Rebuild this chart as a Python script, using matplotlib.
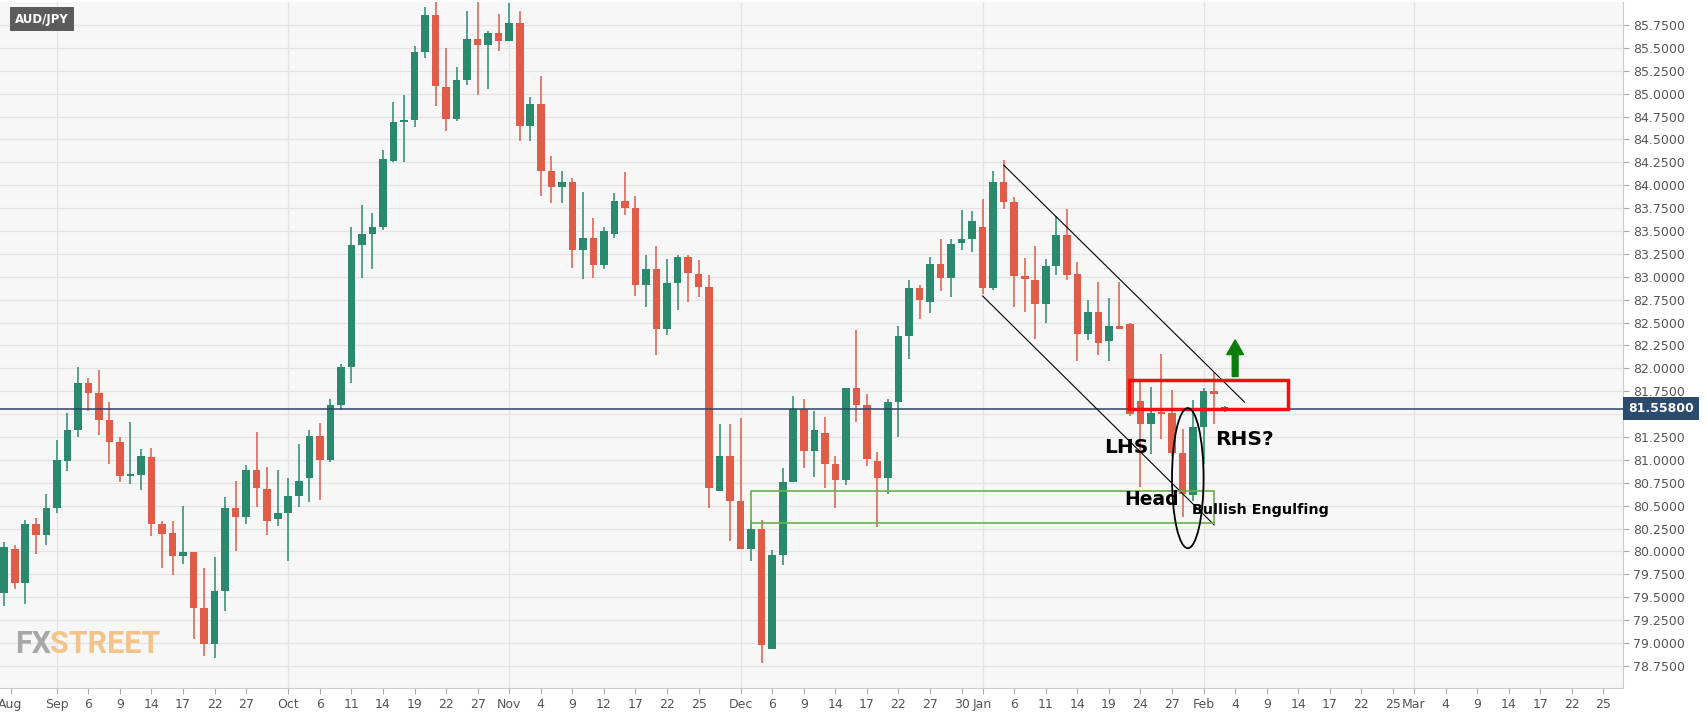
import matplotlib
matplotlib.use("Agg")
import matplotlib.pyplot as plt
import numpy as np
from matplotlib.patches import Rectangle, Ellipse, FancyArrow

# OHLC (daily, trading-day index from Aug 25)
opens = [79.55,80.03,79.66,80.30,80.18,80.47,80.99,81.33,81.84,81.73,81.43,81.20,80.82,80.83,81.03,80.30,80.20,79.95,79.99,79.38,
         78.99,79.57,80.47,80.38,80.89,80.68,80.35,80.42,80.60,80.80,81.26,81.00,81.60,82.01,83.35,83.47,83.54,84.27,84.69,84.71,
         85.45,85.86,85.07,84.72,85.15,85.60,85.53,85.66,85.58,85.77,84.65,84.89,84.16,83.98,84.03,83.29,83.42,83.13,83.47,83.83,
         83.75,82.91,83.09,82.43,82.93,83.22,83.03,82.89,80.66,81.04,80.55,80.03,80.25,78.93,79.96,80.76,81.56,81.10,81.29,80.96,
         80.78,81.78,81.60,80.99,80.80,81.63,82.35,82.88,82.72,83.14,82.99,83.37,83.41,83.54,82.88,84.03,83.82,83.01,82.96,82.70,
         83.12,83.46,83.03,82.38,82.62,82.30,82.46,82.48,81.64,81.39,81.51,81.51,81.08,80.62,81.36,81.75,81.56]
closes = [80.05,79.66,80.30,80.18,80.47,81.00,81.33,81.84,81.73,81.43,81.20,80.82,80.83,81.04,80.30,80.19,79.95,79.99,79.38,78.99,
          79.57,80.47,80.38,80.89,80.69,80.33,80.42,80.60,80.77,81.26,81.00,81.60,82.01,83.35,83.47,83.54,84.29,84.69,84.71,85.45,
          85.86,85.08,84.72,85.15,85.60,85.53,85.66,85.58,85.77,84.65,84.89,84.16,83.98,84.03,83.29,83.42,83.13,83.50,83.83,83.75,
          82.91,83.09,82.43,82.93,83.22,83.04,82.89,80.69,81.04,80.55,80.03,80.25,78.98,79.96,80.76,81.56,81.10,81.33,80.96,80.78,
          81.78,81.60,81.01,80.80,81.63,82.35,82.88,82.75,83.14,82.99,83.36,83.41,83.61,82.88,84.03,83.82,83.01,82.98,82.70,83.12,
          83.46,83.02,82.38,82.62,82.28,82.46,82.43,81.50,81.39,81.51,81.50,81.08,80.63,81.36,81.75,81.72,81.56]
highs = [80.10,80.07,80.34,80.37,80.63,81.22,81.51,82.01,81.89,81.98,81.63,81.25,81.41,81.12,81.13,80.33,80.33,80.50,79.99,79.82,
         79.94,80.59,80.77,80.94,81.30,80.92,80.89,80.80,81.17,81.33,81.40,81.66,82.05,83.54,83.78,83.70,84.38,84.91,84.99,85.52,
         85.95,86.00,85.50,85.29,85.90,86.00,85.68,85.87,85.99,85.90,84.96,85.19,84.32,84.15,84.08,83.93,83.64,83.54,83.92,84.14,
         83.88,83.24,83.34,83.19,83.24,83.24,83.18,83.02,81.39,81.39,81.46,80.34,80.34,80.02,80.91,81.70,81.66,81.53,81.47,81.04,
         81.78,82.42,81.72,81.09,81.67,82.46,82.96,82.91,83.22,83.41,83.41,83.73,83.72,83.85,84.15,84.28,83.87,83.20,83.34,83.19,
         83.66,83.74,83.16,82.75,82.94,82.77,82.94,82.50,81.85,81.80,82.16,81.76,81.34,81.65,81.78,81.96,81.59]
lows = [79.40,79.59,79.42,79.97,80.07,80.42,80.88,81.25,81.53,81.27,80.96,80.76,80.74,80.67,80.17,79.82,79.74,79.86,79.04,78.86,
        78.84,79.35,80.00,80.30,80.48,80.18,80.28,79.89,80.48,80.54,80.56,80.98,81.55,81.84,82.99,83.09,83.51,84.25,84.25,84.64,
        85.39,84.86,84.59,84.70,85.10,84.99,85.05,85.47,85.57,84.48,84.48,83.88,83.81,83.81,83.10,82.98,82.99,83.09,83.42,83.67,
        82.79,82.67,82.15,82.36,82.64,82.72,82.78,80.47,80.66,80.11,80.03,79.90,78.78,78.93,79.85,80.76,80.91,80.81,80.69,80.47,
        80.72,81.41,80.93,80.27,80.63,81.25,82.10,82.54,82.60,82.84,82.78,83.29,83.27,82.81,82.85,83.74,82.67,82.61,82.32,82.50,
        83.02,82.97,82.08,82.31,82.15,82.08,82.43,81.48,80.70,81.06,81.23,81.04,80.38,80.55,80.95,81.39,81.52]

xtick_pos = [0.6,5,8,11,14,17,20,23,27,30,33,36,39,42,45,48,51,54,57,60,63,66,70,73,76,79,82,85,88,91,93,96,99,102,105,108,111,114,
             117,120,123,126,129,132,134,137,140,143,146,149,152]
xtick_labels = ["Aug","Sep","6","9","14","17","22","27","Oct","6","11","14","19","22","27","Nov","4","9","12","17","22","25","Dec",
                "6","9","14","17","22","27","30","Jan","6","11","14","19","24","27","Feb","4","9","14","17","22","25","Mar","4","9",
                "14","17","22","25"]
month_pos = [5,27,48,70,93,114,134]
yticks = np.arange(78.75, 85.76, 0.25)
last_price = 81.558

GREEN = "#2b8a6e"
RED = "#e05c48"

fig = plt.figure(figsize=(17.07, 7.12), dpi=100)
fig.patch.set_facecolor("white")
ax = fig.add_axes([0.0, 0.034, 0.951, 0.963])
ax.set_facecolor("#f7f7f7")

o = np.array(opens); c = np.array(closes); h = np.array(highs); l = np.array(lows)
x = np.arange(len(o))
col = np.where(c >= o, GREEN, RED)
ax.vlines(x, l, h, colors=col, linewidth=1.1, zorder=3)
bottom = np.minimum(o, c)
height = np.maximum(np.abs(c - o), 0.02)
ax.bar(x, height, bottom=bottom, width=0.72, color=col, zorder=4)

for y in yticks:
    ax.axhline(y, color="#e4e4e4", linewidth=0.9, zorder=0)
for m in month_pos:
    ax.axvline(m, color="#e4e4e4", linewidth=0.9, zorder=0)

ax.axhline(last_price, color="#2c4263", linewidth=1.1, zorder=5)

# annotations
ax.plot([95, 117.9], [84.22, 81.63], color="black", linewidth=0.8, zorder=6)
ax.plot([93, 115], [82.79, 80.29], color="black", linewidth=0.8, zorder=6)
ax.add_patch(Rectangle((106.9, 81.56), 15.1, 0.31, fill=False, edgecolor="#ee1111", linewidth=2.5, zorder=7))
ax.add_patch(Rectangle((71, 80.31), 44, 0.35, fill=False, edgecolor="#6ab04c", linewidth=1.2, zorder=6))
ax.add_patch(Ellipse((112.5, 80.8), 3.0, 1.53, fill=False, edgecolor="black", linewidth=1.3, zorder=7))
ax.add_patch(FancyArrow(117, 81.91, 0, 0.24, width=0.55, head_width=1.6, head_length=0.16,
                        length_includes_head=False, color="#0a7d0a", zorder=7))
ax.text(106.7, 81.14, "LHS", fontsize=14.5, fontweight="bold", ha="center", va="center", zorder=8)
ax.text(109.1, 80.57, "Head", fontsize=13.5, fontweight="bold", ha="center", va="center", zorder=8)
ax.text(112.9, 80.45, "Bullish Engulfing", fontsize=10.3, fontweight="bold", ha="left", va="center", zorder=8)
ax.text(115.1, 81.22, "RHS?", fontsize=14.5, fontweight="bold", ha="left", va="center", zorder=8)

ax.set_xlim(-0.4, 153.9)
ax.set_ylim(78.51, 86.0)
ax.yaxis.tick_right()
ax.set_yticks(yticks)
ax.set_yticklabels([f"{v:.4f}" for v in yticks], fontsize=9, color="#555555")
ax.set_xticks(xtick_pos)
ax.set_xticklabels(xtick_labels, fontsize=9, color="#555555")
ax.tick_params(axis="both", length=4, color="#aaaaaa", pad=3)
for s in ["left", "top"]:
    ax.spines[s].set_visible(False)
ax.spines["right"].set_color("#cccccc")
ax.spines["bottom"].set_color("#cccccc")

ax.text(1.003, (last_price - 78.51) / (86.0 - 78.51), "81.55800", transform=ax.transAxes,
        fontsize=9, fontweight="bold", color="white", ha="left", va="center",
        bbox=dict(boxstyle="square,pad=0.4", facecolor="#2c4a6e", edgecolor="none"), zorder=10)

fig.text(0.009, 0.973, "AUD/JPY", fontsize=8.5, fontweight="bold", color="white", ha="left", va="center",
         bbox=dict(boxstyle="square,pad=0.45", facecolor="#5c5c5c", edgecolor="none"))
fig.text(0.009, 0.095, "FX", fontsize=22, fontweight="bold", color="#a8a8a8", ha="left", va="center", family="Roboto")
fig.text(0.0295, 0.095, "STREET", fontsize=22, fontweight="bold", color="#f3c48a", ha="left", va="center", family="Roboto")

fig.savefig("out.png", dpi=100)
